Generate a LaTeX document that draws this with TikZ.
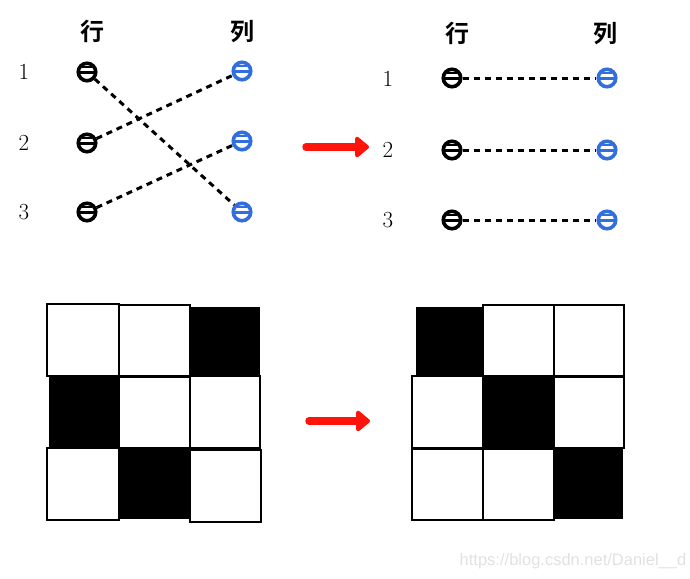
\documentclass[tikz,border=0pt]{standalone}
\usepackage{fontspec}
\newfontfamily\cjk[BoldFont={* Bold}]{Noto Sans CJK SC}
\newfontfamily\wmfont{Liberation Sans}
\usetikzlibrary{arrows.meta}
\definecolor{ringblue}{RGB}{50,110,220}
\definecolor{arrowred}{RGB}{255,20,10}
\definecolor{wmgray}{RGB}{225,225,225}
\begin{document}
\begin{tikzpicture}[x=1pt,y=-1pt,
  ring/.style={circle, draw=#1, line width=3.6pt, minimum size=17.5pt, inner sep=0pt,
    path picture={
      \draw[#1, line width=3pt] ([xshift=-10pt]path picture bounding box.center) -- ([xshift=10pt]path picture bounding box.center);
      \draw[#1, line width=2pt] ([xshift=-5pt,yshift=4.6pt]path picture bounding box.center) -- ([xshift=5pt,yshift=4.6pt]path picture bounding box.center);
    }},
  ring/.default=black,
  link/.style={line width=3pt, dash pattern=on 6pt off 5pt},
  num/.style={font=\fontsize{23pt}{23pt}\selectfont, inner sep=0pt},
  head/.style={font=\cjk\bfseries\fontsize{24pt}{24pt}\selectfont, inner sep=0pt},
  bigarrow/.style={arrowred, line width=7.5pt, line cap=round, -{Triangle[length=15pt,width=24pt,round]}},
  cell/.style={draw=black, line width=2pt}]
\useasboundingbox (0,0) rectangle (690,578);

% ---------- top left ----------
\node[head] (hL) at (92,31) {行};
\node[head] (cL) at (242,32) {列};
\node[num] (n1) at (24,72) {1};
\node[num] (n2) at (24,143) {2};
\node[num] (n3) at (24,212) {3};
\node[ring] (l1) at (87,72) {};
\node[ring] (l2) at (87,143) {};
\node[ring] (l3) at (87,212) {};
\node[ring=ringblue] (r1) at (242,71) {};
\node[ring=ringblue] (r2) at (242,141) {};
\node[ring=ringblue] (r3) at (242,212) {};
\draw[link] (l1) -- (r3);
\draw[link] (l2) -- (r1);
\draw[link] (l3) -- (r2);

% ---------- top arrow ----------
\coordinate (ta1) at (306,147);
\coordinate (ta2) at (369,147);
\draw[bigarrow] (ta1) -- (ta2);

% ---------- top right ----------
\node[head] (hR) at (457,33) {行};
\node[head] (cR) at (605,34) {列};
\node[num] (m1) at (388,79) {1};
\node[num] (m2) at (388,150) {2};
\node[num] (m3) at (388,220) {3};
\node[ring] (p1) at (452,78) {};
\node[ring] (p2) at (452,150) {};
\node[ring] (p3) at (452,220) {};
\node[ring=ringblue] (q1) at (607,78) {};
\node[ring=ringblue] (q2) at (607,150) {};
\node[ring=ringblue] (q3) at (607,220) {};
\draw[link] (p1) -- (q1);
\draw[link] (p2) -- (q2);
\draw[link] (p3) -- (q3);

% ---------- left grid ----------
\draw[cell] (46.6,303.5) rectangle (118.5,376);
\draw[cell] (119,305) rectangle (189.7,376);
\fill[black] (191,307) rectangle (259.5,376);
\fill[black] (49,377) rectangle (118,448);
\draw[cell] (119,377) rectangle (189.5,448);
\draw[cell] (189.5,376) rectangle (260,448);
\draw[cell] (46.6,448) rectangle (118.5,520);
\fill[black] (119,448) rectangle (189,519);
\draw[cell] (189.5,450) rectangle (260.5,522);

% ---------- bottom arrow ----------
\coordinate (ba1) at (309,421);
\coordinate (ba2) at (370,421);
\draw[bigarrow] (ba1) -- (ba2);

% ---------- right grid ----------
\fill[black] (416,307) rectangle (483,376);
\draw[cell] (483,305) rectangle (554,376);
\draw[cell] (554,305) rectangle (624,376);
\draw[cell] (412,376) rectangle (483,448);
\fill[black] (483,377) rectangle (554,448);
\draw[cell] (554,377) rectangle (624,448);
\draw[cell] (412,449) rectangle (483,520);
\draw[cell] (483,449) rectangle (554,520);
\fill[black] (554,449) rectangle (623,519);

% ---------- watermark ----------
\node[font=\wmfont\fontsize{16.5pt}{16.5pt}\selectfont, text=wmgray, inner sep=0pt] (wm) at (573,561) {https://blog.csdn.net/Daniel\_\_d};
\end{tikzpicture}
\end{document}
